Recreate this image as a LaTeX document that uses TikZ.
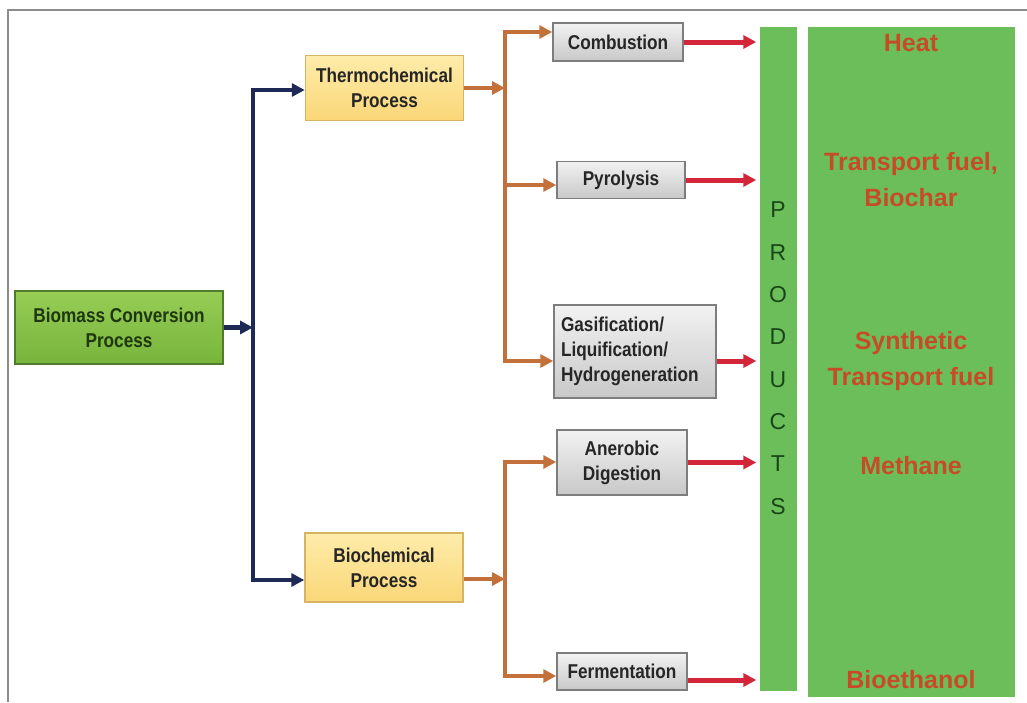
\documentclass[tikz,border=0pt]{standalone}
\usepackage{fontspec}
\setmainfont{Liberation Sans}
\newfontfamily\boxfont[FakeStretch=0.86]{Liberation Sans}
\usepackage{xcolor}
\usetikzlibrary{
	arrows.meta,
	calc,
	positioning
}
\definecolor{framegray}{RGB}{140,140,140}
\definecolor{blueline}{RGB}{30,42,85}
\definecolor{orangeline}{RGB}{196,112,58}
\definecolor{redline}{RGB}{212,38,58}
\definecolor{panelgreen}{RGB}{108,190,90}
\definecolor{prodred}{RGB}{200,75,40}
\definecolor{letterdark}{RGB}{25,70,25}
\tikzset{
	box/.style={draw, line width=1.5pt, inner sep=0pt, align=center,
		font=\boxfont\bfseries\fontsize{20}{25}\selectfont, text=black!85},
	greenbox/.style={box, draw={rgb,255:red,80;green,125;blue,45},
		top color={rgb,255:red,150;green,205;blue,85},
		bottom color={rgb,255:red,120;green,180;blue,60},
		text={rgb,255:red,30;green,55;blue,15}},
	yellowbox/.style={box, draw={rgb,255:red,215;green,180;blue,100},
		top color={rgb,255:red,254;green,236;blue,170},
		bottom color={rgb,255:red,250;green,215;blue,120}},
	graybox/.style={box, draw={rgb,255:red,125;green,125;blue,125},
		top color={rgb,255:red,242;green,242;blue,242},
		bottom color={rgb,255:red,200;green,200;blue,200}},
	greenbar/.style={fill=panelgreen, inner sep=0pt},
	prodletter/.style={text=letterdark, font=\fontsize{23}{23}\selectfont},
	prodtext/.style={text=prodred, align=center,
		font=\bfseries\fontsize{25}{36}\selectfont},
	headed/.style={-{Triangle[length=13pt, width=13pt]}},
	twoheads/.style={{Triangle[length=13pt, width=13pt]}-{Triangle[length=13pt, width=13pt]}},
	bluewire/.style={draw=blueline, line width=4.5pt},
	orangewire/.style={draw=orangeline, line width=4pt},
	redwire/.style={draw=redline, line width=5pt, shorten >=3pt}
}
\begin{document}
\begin{tikzpicture}[x=1pt, y=-1pt]
		\useasboundingbox (0,0) rectangle (1027,702);
		\draw[framegray, line width=1.5pt] (1027,10) -- (8,10) -- (8,702);
		\node[greenbar, minimum width=37pt, minimum height=664pt] (products) at (778,359) {};
		\node[greenbar, minimum width=207pt, minimum height=670pt] (panel) at (911.5,362) {};
		\node[greenbox, minimum width=208pt, minimum height=73pt] (biomass) at (119,327.5) {Biomass Conversion\\Process};
		\node[yellowbox, minimum width=158pt, minimum height=65pt] (thermo) at (384.5,88) {Thermochemical\\Process};
		\node[yellowbox, minimum width=158pt, minimum height=69pt] (biochem) at (384,567.5) {Biochemical\\Process};
		\node[graybox, minimum width=130pt, minimum height=38pt] (comb) at (618,42) {Combustion};
		\node[graybox, minimum width=128pt, minimum height=37pt] (pyro) at (621,180) {Pyrolysis};
		\node[graybox, minimum width=162pt, minimum height=93pt, align=left, text width=148pt] (gasif) at (635,351.5) {Gasification/\\Liquification/\\Hydrogeneration};
		\node[graybox, minimum width=130pt, minimum height=65pt] (anaer) at (622,462.5) {Anerobic\\Digestion};
		\node[graybox, minimum width=130pt, minimum height=37pt] (ferm) at (622,671.5) {Fermentation};
		\foreach \l [count=\i from 0] in {P,R,O,D,U,C,T,S}
		\node[prodletter] (letter\l) at (778,{210+42.3*\i}) {\l};
		\foreach \p/\y/\t in {heat/43/Heat, transport/180/{Transport fuel,\\Biochar}, synthetic/361/{Synthetic\\Transport fuel}, methane/466/Methane, bioethanol/680/Bioethanol}
		\node[prodtext] (\p) at (911,\y) {\t};
		\coordinate (bfork) at (253,327.5);
		\coordinate (btop) at (253,90);
		\coordinate (bbot) at (253,580);
		\coordinate (tfork) at (505,88);
		\coordinate (ttop) at (505,32);
		\coordinate (tmid) at (505,185);
		\coordinate (tbot) at (505,361);
		\coordinate (cfork) at (505,579);
		\coordinate (ctop) at (505,462);
		\coordinate (cbot) at (505,676);
		\coordinate (fout) at ([yshift=-8.5pt]ferm.east);
		\draw[bluewire, headed] (biomass.east) -- (bfork);
		\draw[bluewire, twoheads] (thermo.west |- btop) -- (btop) -- (bbot) -- (biochem.west |- bbot);
		\draw[orangewire, headed] (thermo.east |- tfork) -- (tfork);
		\draw[orangewire, twoheads] (comb.west |- ttop) -- (ttop) -- (tbot) -- (gasif.west |- tbot);
		\draw[orangewire, headed] (tmid) -- (pyro.west |- tmid);
		\draw[orangewire, headed] (biochem.east |- cfork) -- (cfork);
		\draw[orangewire, twoheads] (anaer.west |- ctop) -- (ctop) -- (cbot) -- (ferm.west |- cbot);
		\draw[redwire, headed] (comb.east) -- (products.west |- comb.east);
		\draw[redwire, headed] (pyro.east) -- (products.west |- pyro.east);
		\draw[redwire, headed] (gasif.east |- tbot) -- (products.west |- tbot);
		\draw[redwire, headed] (anaer.east) -- (products.west |- anaer.east);
		\draw[redwire, headed] (fout) -- (products.west |- fout);
	\end{tikzpicture}
\end{document}
